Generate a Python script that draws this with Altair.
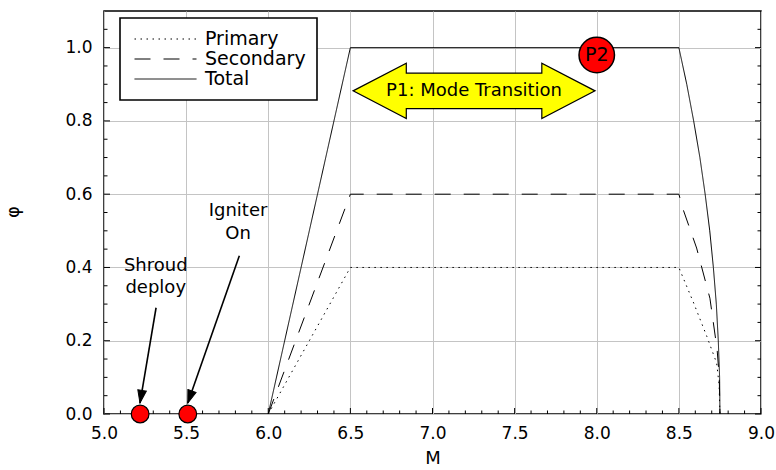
import math
import altair as alt
import pandas as pd

# ---------------- data ----------------
series_names = ["Primary", "Secondary", "Total"]

primary_M = [6.0, 6.5, 8.5, 8.51, 8.59, 8.67, 8.73, 8.745, 8.75]
primary_phi = [0.0, 0.4, 0.4, 0.389, 0.303, 0.212, 0.139, 0.08, 0.0]

secondary_M = [6.0, 6.5, 8.5, 8.527, 8.608, 8.689, 8.733, 8.746, 8.75]
secondary_phi = [0.0, 0.6, 0.6, 0.557, 0.453, 0.316, 0.175, 0.10, 0.0]

total_M = [6.0, 6.5, 8.5, 8.548, 8.59, 8.628, 8.66, 8.688, 8.71, 8.728, 8.74, 8.748, 8.75]
total_phi = [0.0, 1.0, 1.0, 0.9, 0.8, 0.7, 0.6, 0.5, 0.4, 0.3, 0.2, 0.1, 0.0]

# event markers (red dots on the M axis)
event_M = [5.22, 5.51]
event_phi = [0.0, 0.0]

# annotation arrows: start -> tip
arrow_start_M = [5.317, 5.824]
arrow_start_phi = [0.29, 0.432]
arrow_tip_M = [5.219, 5.51]
arrow_tip_phi = [0.03, 0.03]

# annotation texts
note_text = ["Shroud", "deploy", "Igniter", "On"]
note_M = [5.315, 5.315, 5.816, 5.816]
note_phi = [0.404, 0.344, 0.553, 0.491]

# P1 banner and P2 marker
p1_text = ["P1: Mode Transition"]
p1_M = [7.253]
p1_phi = [0.882]
p2_text = ["P2"]
p2_M = [8.0]
p2_phi = [0.98]

# axis ticks
x_major = [5.0, 5.5, 6.0, 6.5, 7.0, 7.5, 8.0, 8.5, 9.0]
x_minor = [5.1, 5.2, 5.3, 5.4, 5.6, 5.7, 5.8, 5.9, 6.1, 6.2, 6.3, 6.4,
           6.6, 6.7, 6.8, 6.9, 7.1, 7.2, 7.3, 7.4, 7.6, 7.7, 7.8, 7.9,
           8.1, 8.2, 8.3, 8.4, 8.6, 8.7, 8.8, 8.9]
y_major = [0.0, 0.2, 0.4, 0.6, 0.8, 1.0]
y_minor = [0.05, 0.1, 0.15, 0.25, 0.3, 0.35, 0.45, 0.5, 0.55, 0.65, 0.7,
           0.75, 0.85, 0.9, 0.95, 1.05]

# ---------------- layout ----------------
W, H = 657, 403
X_DOM = [5.0, 9.0]
Y_DOM = [0.0, 1.1]
FONT = "DejaVu Sans"

rows = []
for name, xs_, ys_ in [("Primary", primary_M, primary_phi),
                       ("Secondary", secondary_M, secondary_phi),
                       ("Total", total_M, total_phi)]:
    for i, (a, b) in enumerate(zip(xs_, ys_)):
        rows.append({"series": name, "M": a, "phi": b, "ord": i})
lines_df = pd.DataFrame(rows)

xs = alt.Scale(domain=X_DOM, nice=False, zero=False)
ys = alt.Scale(domain=Y_DOM, nice=False, zero=False)

lines = alt.Chart(lines_df).mark_line(color="black", strokeWidth=1).encode(
    x=alt.X("M:Q", scale=xs,
            axis=alt.Axis(values=x_major, format=".1f", title="M",
                          labelFlush=False,
                          labelPadding=11, titlePadding=8, titleFontSize=18,
                          titleFontWeight="normal", titleFont=FONT)),
    y=alt.Y("phi:Q", scale=ys,
            axis=alt.Axis(values=y_major, format=".1f", title="φ",
                          labelFlush=False,
                          labelPadding=12, titleX=-82, titleY=H / 2 - 1,
                          titleFontSize=18, titleFontWeight="normal",
                          titleFont=FONT)),
    order="ord:Q",
    strokeDash=alt.StrokeDash(
        "series:N",
        scale=alt.Scale(domain=series_names,
                        range=[[1.5, 4.5], [16, 13], [1, 0]]),
        legend=alt.Legend(orient="none", legendX=16, legendY=7, title=None,
                          symbolType="stroke", symbolSize=3844,
                          symbolStrokeColor="black", symbolStrokeWidth=1,
                          labelFont=FONT, labelFontSize=19,
                          labelColor="black", labelOffset=8,
                          strokeColor="black", fillColor="white",
                          padding=11, rowPadding=0, clipHeight=20,
                          symbolOffset=3)),
)

# ticks (inward)
tick_xmaj = alt.Chart(pd.DataFrame({"M": x_major})).mark_rule(
    color="black", strokeWidth=1).encode(
    x="M:Q", y=alt.value(H), y2=alt.value(H - 6))
tick_xmin = alt.Chart(pd.DataFrame({"M": x_minor})).mark_rule(
    color="black", strokeWidth=1).encode(
    x="M:Q", y=alt.value(H), y2=alt.value(H - 3.5))
tick_ylmaj = alt.Chart(pd.DataFrame({"phi": y_major})).mark_rule(
    color="black", strokeWidth=1).encode(
    y="phi:Q", x=alt.value(0), x2=alt.value(6))
tick_ylmin = alt.Chart(pd.DataFrame({"phi": y_minor})).mark_rule(
    color="black", strokeWidth=1).encode(
    y="phi:Q", x=alt.value(0), x2=alt.value(3.5))
tick_yrmaj = alt.Chart(pd.DataFrame({"phi": y_major})).mark_rule(
    color="black", strokeWidth=1).encode(
    y="phi:Q", x=alt.value(W), x2=alt.value(W - 6))
tick_yrmin = alt.Chart(pd.DataFrame({"phi": y_minor})).mark_rule(
    color="black", strokeWidth=1).encode(
    y="phi:Q", x=alt.value(W), x2=alt.value(W - 3.5))

# yellow double-headed arrow (P1)
dbl_arrow = ("M -1 0 L -0.56 -0.229 L -0.56 -0.146 L 0.56 -0.146 "
             "L 0.56 -0.229 L 1 0 L 0.56 0.229 L 0.56 0.146 "
             "L -0.56 0.146 L -0.56 0.229 Z")
p1_df = pd.DataFrame({"M": p1_M, "phi": p1_phi, "t": p1_text})
p1_shape = alt.Chart(p1_df).mark_point(
    shape=dbl_arrow, size=242 ** 2, filled=True, fill="#ffff00",
    stroke="black", strokeWidth=1.2, opacity=1).encode(x="M:Q", y="phi:Q")
p1_label = alt.Chart(p1_df).mark_text(
    font=FONT, fontSize=18, color="black", baseline="middle",
    align="center").encode(x="M:Q", y="phi:Q", text="t:N")

# P2 red circle
p2_df = pd.DataFrame({"M": p2_M, "phi": p2_phi, "t": p2_text})
p2_shape = alt.Chart(p2_df).mark_point(
    shape="circle", size=math.pi * 20 ** 2, filled=True, fill="#ff0000",
    stroke="black", strokeWidth=1.5, opacity=1).encode(x="M:Q", y="phi:Q")
p2_label = alt.Chart(p2_df).mark_text(
    font=FONT, fontSize=19, color="black", baseline="middle",
    align="center").encode(x="M:Q", y="phi:Q", text="t:N")

# annotation arrows
px_M = W / (X_DOM[1] - X_DOM[0])
px_phi = H / (Y_DOM[1] - Y_DOM[0])
angles = []
for sx, sy, tx, ty in zip(arrow_start_M, arrow_start_phi, arrow_tip_M, arrow_tip_phi):
    dx = (tx - sx) * px_M
    dy = -(ty - sy) * px_phi
    angles.append(math.degrees(math.atan2(-dx, dy)) % 360)
arr_df = pd.DataFrame({"M": arrow_start_M, "phi": arrow_start_phi,
                       "M2": arrow_tip_M, "phi2": arrow_tip_phi,
                       "ang": angles})
arr_lines = alt.Chart(arr_df).mark_rule(color="black", strokeWidth=1.6).encode(
    x="M:Q", y="phi:Q", x2="M2:Q", y2="phi2:Q")
head_df = pd.DataFrame({"M": arrow_tip_M, "phi": arrow_tip_phi, "ang": angles})
arr_heads = alt.Chart(head_df).mark_point(
    shape="M -0.34 -1 L 0.34 -1 L 0 0 Z", size=25.4 ** 2, filled=True,
    fill="black", stroke="black", strokeWidth=1, opacity=1).encode(
    x="M:Q", y="phi:Q",
    angle=alt.Angle("ang:Q", scale=None))

# red event dots
ev_df = pd.DataFrame({"M": event_M, "phi": event_phi})
ev_dots = alt.Chart(ev_df).mark_point(
    shape="circle", size=math.pi * 10 ** 2, filled=True, fill="#ff0000",
    stroke="black", strokeWidth=1.2, opacity=1, clip=False).encode(
    x="M:Q", y="phi:Q")

# annotation texts
note_df = pd.DataFrame({"M": note_M, "phi": note_phi, "t": note_text})
notes = alt.Chart(note_df).mark_text(
    font=FONT, fontSize=18, color="black", baseline="middle",
    align="center").encode(x="M:Q", y="phi:Q", text="t:N")

chart = alt.layer(
    lines, tick_xmaj, tick_xmin, tick_ylmaj, tick_ylmin, tick_yrmaj,
    tick_yrmin, p1_shape, p1_label, p2_shape, p2_label, arr_lines,
    arr_heads, ev_dots, notes,
).properties(
    width=W, height=H,
    autosize=alt.AutoSizeParams(type="none"),
    padding={"left": 104, "top": 11, "right": 15, "bottom": 56},
    background="white",
).configure_view(
    stroke="black", strokeWidth=1.5
).configure_axis(
    labelFont=FONT, labelFontSize=17, labelColor="black",
    titleColor="black", domain=False, ticks=False,
    gridColor="#c4c4c4", gridWidth=1,
).configure_legend(
    strokeWidth=1.6
)

chart.save("out.html", embed_options={"renderer": "svg", "actions": False})
